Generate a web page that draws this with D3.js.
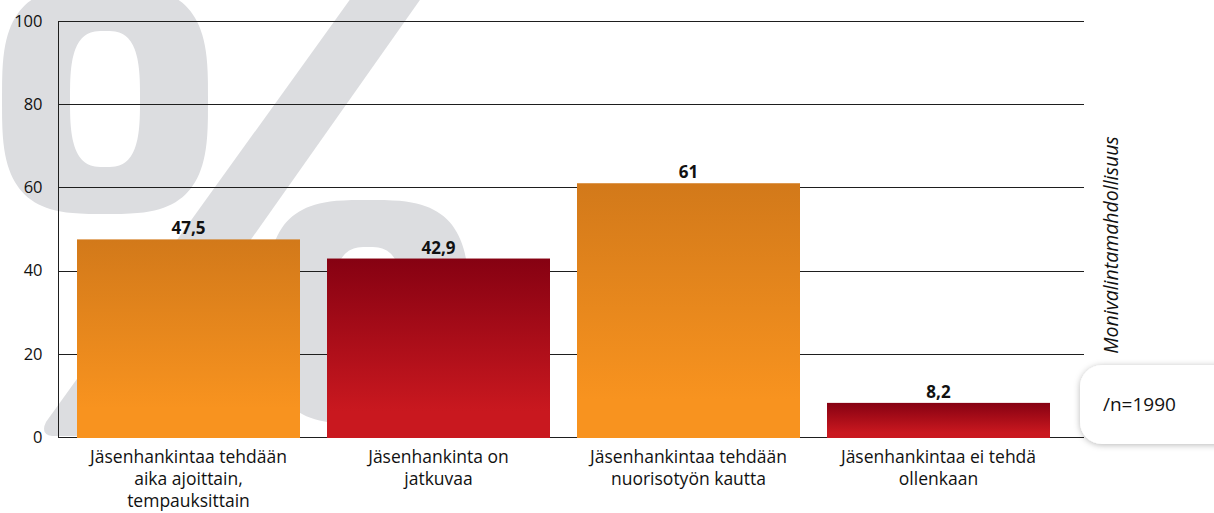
<!DOCTYPE html>
<html>
<head>
<meta charset="utf-8">
<script src="https://cdn.jsdelivr.net/npm/d3@7"></script>
<style>
  html, body { margin: 0; padding: 0; background: #fff; }
  svg { display: block; }
  text { font-family: "Open Sans", Lato, sans-serif; }
</style>
</head>
<body>
<svg id="chart" width="1214" height="513"></svg>
<script>
// Jäsenhankinta – vastausten jakauma (%)
const categories = [
  "Jäsenhankintaa tehdään\naika ajoittain,\ntempauksittain",
  "Jäsenhankinta on\njatkuvaa",
  "Jäsenhankintaa tehdään\nnuorisotyön kautta",
  "Jäsenhankintaa ei tehdä\nollenkaan"
];
const values = [47.5, 42.9, 61, 8.2];
const valueLabels = ["47,5", "42,9", "61", "8,2"];
const colourGroups = ["orange", "red", "orange", "red"];
const yTicks = [0, 20, 40, 60, 80, 100];
const sideNote = "Monivalintamahdollisuus";
const sampleNote = "/n=1990";

const svg = d3.select("#chart");

const plot = { left: 58, right: 1084, top: 21, bottom: 437 };

const x = d3.scaleBand()
  .domain(categories)
  .range([63.5, 1063.5])
  .paddingInner(0.108)
  .paddingOuter(0.054);

const y = d3.scaleLinear()
  .domain([0, 100])
  .range([plot.bottom, plot.top]);

const defs = svg.append("defs");
const gradients = {
  orange: ["#d2791a", "#f8931f"],
  red: ["#860112", "#c9181f"]
};
Object.entries(gradients).forEach(([key, [top, bottom]]) => {
  const g = defs.append("linearGradient")
    .attr("id", "grad-" + key)
    .attr("x1", 0).attr("y1", 0).attr("x2", 0).attr("y2", 1);
  g.append("stop").attr("offset", "0%").attr("stop-color", top);
  g.append("stop").attr("offset", "85%").attr("stop-color", bottom);
  g.append("stop").attr("offset", "100%").attr("stop-color", bottom);
});

const shadow = defs.append("filter").attr("id", "soft-shadow")
  .attr("x", "-30%").attr("y", "-40%").attr("width", "160%").attr("height", "180%");
shadow.append("feDropShadow")
  .attr("dx", 0).attr("dy", 1).attr("stdDeviation", 3)
  .attr("flood-color", "#000").attr("flood-opacity", 0.28);

// Large decorative percent sign behind the plot
function superellipse(cx, cy, rx, ry, n, steps = 120) {
  const pts = [];
  for (let i = 0; i < steps; i++) {
    const t = (i / steps) * 2 * Math.PI;
    const c = Math.cos(t), s = Math.sin(t);
    pts.push([
      cx + rx * Math.sign(c) * Math.pow(Math.abs(c), 2 / n),
      cy + ry * Math.sign(s) * Math.pow(Math.abs(s), 2 / n)
    ]);
  }
  return "M" + pts.map(p => p.join(",")).join("L") + "Z";
}
const mark = svg.append("g").attr("fill", "#dcdde0").attr("fill-rule", "evenodd");
mark.append("path")
  .attr("d", superellipse(105, 100, 103, 114, 3.2) + superellipse(105, 99, 35, 68, 3));
mark.append("path")
  .attr("d", "M364,-20 L434,-20 L118,428 Q112,436 100,436 L52,436 Q40,434 46,422 Z");
mark.append("path")
  .attr("d", superellipse(368, 312, 101, 112, 3.2) + superellipse(368, 313, 35, 66, 3));

// Gridlines
svg.append("g")
  .selectAll("line")
  .data(yTicks)
  .join("line")
  .attr("x1", plot.left).attr("x2", plot.right)
  .attr("y1", d => Math.round(y(d)) + 0.5).attr("y2", d => Math.round(y(d)) + 0.5)
  .attr("stroke", "#1e1e1e").attr("stroke-width", 1);

// Y axis
const yAxis = d3.axisLeft(y).tickValues(yTicks).tickSize(0).tickPadding(16);
const gy = svg.append("g").attr("transform", `translate(${plot.left + 0.5},0)`).call(yAxis);
gy.select(".domain").attr("stroke", "#1e1e1e").attr("d", `M0,${plot.top}V${plot.bottom + 1}`);
gy.selectAll("text")
  .attr("font-family", "'Open Sans', Lato, sans-serif")
  .attr("font-size", 16.5).attr("fill", "#111");

// Bars
svg.append("g")
  .selectAll("rect")
  .data(categories)
  .join("rect")
  .attr("x", d => x(d))
  .attr("width", x.bandwidth())
  .attr("y", (d, i) => y(values[i]))
  .attr("height", (d, i) => y(0) - y(values[i]) + 1)
  .attr("fill", (d, i) => `url(#grad-${colourGroups[i]})`);

// Value labels
svg.append("g")
  .selectAll("text")
  .data(categories)
  .join("text")
  .attr("x", d => x(d) + x.bandwidth() / 2)
  .attr("y", (d, i) => y(values[i]) - 5)
  .attr("text-anchor", "middle")
  .attr("font-size", 17).attr("font-weight", "bold").attr("fill", "#111")
  .text((d, i) => valueLabels[i]);

// Category labels
const catG = svg.append("g")
  .selectAll("text")
  .data(categories)
  .join("text")
  .attr("x", d => x(d) + x.bandwidth() / 2)
  .attr("y", 463)
  .attr("text-anchor", "middle")
  .attr("font-size", 17.5).attr("fill", "#111");
catG.selectAll("tspan")
  .data(d => d.split("\n").map(line => ({ line, cx: x(d) + x.bandwidth() / 2 })))
  .join("tspan")
  .attr("x", d => d.cx)
  .attr("dy", (d, i) => i === 0 ? 0 : 22)
  .text(d => d.line);

// Side annotation
svg.append("text")
  .attr("transform", "translate(1118,245) rotate(-90)")
  .attr("text-anchor", "middle")
  .attr("font-size", 19.5).attr("font-style", "italic").attr("fill", "#111")
  .text(sideNote);

// Sample size box
svg.append("rect")
  .attr("x", 1080).attr("y", 365).attr("width", 160).attr("height", 79)
  .attr("rx", 22).attr("ry", 22)
  .attr("fill", "#fff").attr("filter", "url(#soft-shadow)");
svg.append("text")
  .attr("x", 1103).attr("y", 411)
  .attr("font-size", 19).attr("fill", "#111")
  .text(sampleNote);
</script>
</body>
</html>
